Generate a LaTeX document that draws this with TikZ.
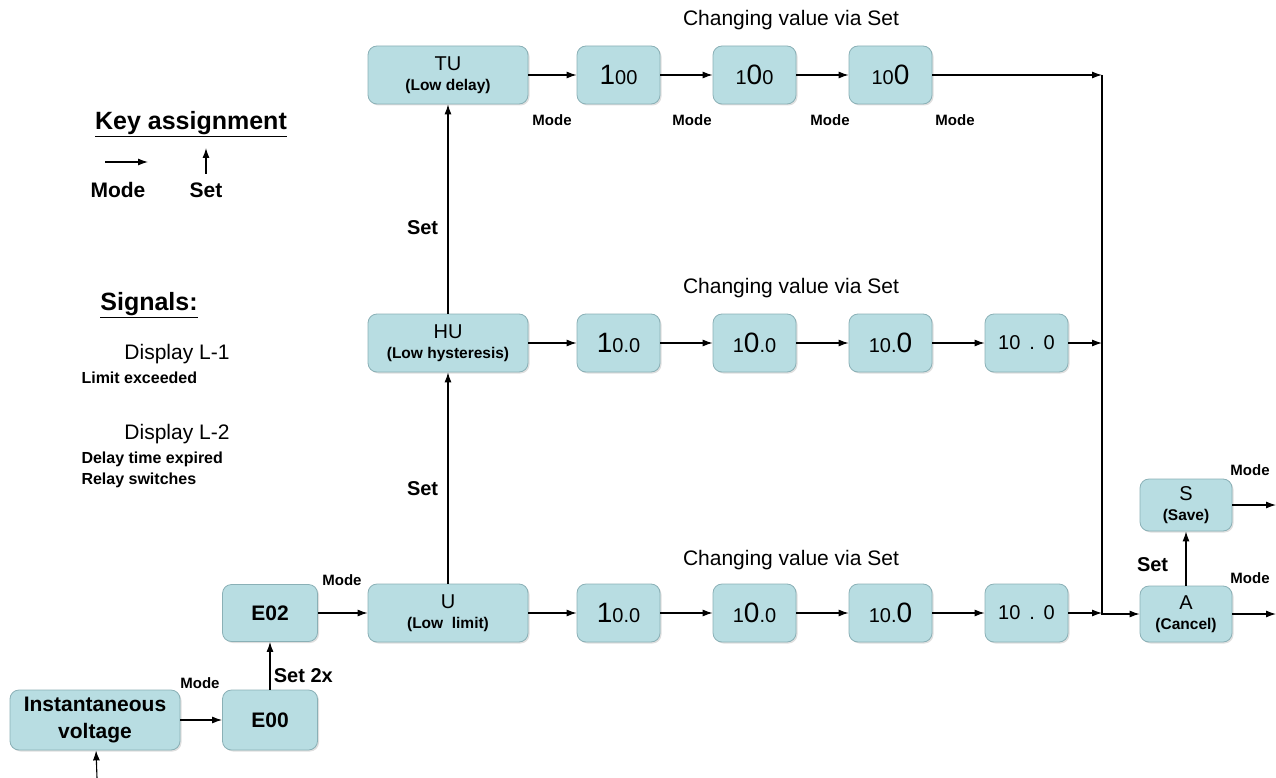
\documentclass[tikz,border=0pt]{standalone}
\usepackage{fontspec}
\setmainfont{Liberation Sans}
\usetikzlibrary{arrows.meta,shadows}

\definecolor{boxfill}{RGB}{184,221,226}
\definecolor{boxline}{RGB}{138,176,182}
\newcommand{\txtsz}[2]{{\fontsize{#1}{#1}\selectfont #2}}
\newcommand{\dbig}[1]{\txtsz{28}{#1}}
\newcommand{\dsml}[1]{\txtsz{20}{#1}}

\tikzset{
	disp/.style={draw=boxline, fill=boxfill, rounded corners=9pt, line width=0.8pt, inner sep=0pt,
		align=center, minimum height=58pt, font={\fontsize{15.5}{20}\selectfont},
		drop shadow={opacity=0.25, shadow xshift=1.5pt, shadow yshift=-1.5pt}},
	wide/.style={disp, minimum width=160pt},
	digit/.style={disp, minimum width=83pt},
	flow/.style={-{Latex[length=10pt,width=7pt]}, line width=1.1pt},
	modelbl/.style={font={\fontsize{15}{15}\selectfont\bfseries}},
	setlbl/.style={font={\fontsize{20}{20}\selectfont\bfseries}},
	head/.style={font={\fontsize{21}{21}\selectfont}},
}

\begin{document}
\begin{tikzpicture}[x=1pt,y=-1pt]
	\useasboundingbox (0,0) rectangle (1276,778);

	% legend
	\node[font={\fontsize{25}{25}\selectfont\bfseries}] (keyttl) at (191,124) {\underline{Key assignment}};
	\coordinate (kmodea) at (105,162);
	\coordinate (kmodeb) at (148,162);
	\coordinate (kseta) at (206,174);
	\coordinate (ksetb) at (206,148);
	\draw[flow] (kmodea) -- (kmodeb);
	\draw[flow] (kseta) -- (ksetb);
	\node[font={\fontsize{21}{21}\selectfont\bfseries}] (kmode) at (118,190) {Mode};
	\node[font={\fontsize{21}{21}\selectfont\bfseries}] (kset) at (206,190) {Set};

	\node[font={\fontsize{25}{25}\selectfont\bfseries}] (sigttl) at (149,305) {\underline{Signals:}};
	\node[font={\fontsize{21}{21}\selectfont}] (dl1) at (177,354) {Display L-1};
	\node[anchor=west, font={\fontsize{16}{16}\selectfont\bfseries}] (dl1t) at (78,378) {Limit exceeded};
	\node[font={\fontsize{21}{21}\selectfont}] (dl2) at (177,434) {Display L-2};
	\node[anchor=west, align=left, font={\fontsize{16}{21}\selectfont\bfseries}] (dl2t) at (78,470) {Delay time expired\\Relay switches};

	% start
	\node[disp, minimum width=170pt, minimum height=60pt, font={\fontsize{21}{27}\selectfont\bfseries}] (inst) at (95,720) {Instantaneous\\voltage};
	\node[disp, minimum width=95pt, minimum height=60pt, font={\fontsize{21}{21}\selectfont\bfseries}] (e00) at (270,720) {E00};
	\node[disp, minimum width=95pt, minimum height=57pt, font={\fontsize{21}{21}\selectfont\bfseries}] (e02) at (270,613) {E02};
	\coordinate (instin) at (97,778);
	\draw[flow] (instin) -- (inst);
	\draw[flow] (inst) -- (e00);
	\draw[flow] (e00) -- node[right, pos=0.3, setlbl] (set2x) {Set 2x} (e02);
	\node[modelbl] (m0) at (200,683) {Mode};
	\node[modelbl] (m1) at (342,580) {Mode};

	% low limit
	\node[head] (hdu) at (791,560) {Changing value via Set};
	\node[wide] (u) at (448,613) {\txtsz{20}{U}\\\textbf{(Low\ \ limit)}};
	\node[digit] (u1) at (618.5,613) {\dbig{1}\dsml{0.0}};
	\node[digit] (u2) at (754.5,613) {\dsml{1}\dbig{0}\dsml{.0}};
	\node[digit] (u3) at (890.5,613) {\dsml{10.}\dbig{0}};
	\node[digit] (u4) at (1026.5,613) {\dsml{10\ \,.\ \,0}};
	\draw[flow] (e02) -- (u);
	\draw[flow] (u) -- (u1);
	\draw[flow] (u1) -- (u2);
	\draw[flow] (u2) -- (u3);
	\draw[flow] (u3) -- (u4);

	% low hysteresis
	\node[head] (hdh) at (791,288) {Changing value via Set};
	\node[wide] (hu) at (448,343) {\txtsz{20}{HU}\\\textbf{(Low hysteresis)}};
	\node[digit] (h1) at (618.5,343) {\dbig{1}\dsml{0.0}};
	\node[digit] (h2) at (754.5,343) {\dsml{1}\dbig{0}\dsml{.0}};
	\node[digit] (h3) at (890.5,343) {\dsml{10.}\dbig{0}};
	\node[digit] (h4) at (1026.5,343) {\dsml{10\ \,.\ \,0}};
	\draw[flow] (u) -- node[left=6pt, pos=0.45, setlbl] (setuh) {Set} (hu);
	\draw[flow] (hu) -- (h1);
	\draw[flow] (h1) -- (h2);
	\draw[flow] (h2) -- (h3);
	\draw[flow] (h3) -- (h4);

	% low delay
	\node[head] (hdt) at (791,20) {Changing value via Set};
	\node[wide] (tu) at (448,75) {\txtsz{20}{TU}\\\textbf{(Low delay)}};
	\node[digit] (t1) at (618.5,75) {\dbig{1}\dsml{00}};
	\node[digit] (t2) at (754.5,75) {\dsml{1}\dbig{0}\dsml{0}};
	\node[digit] (t3) at (890.5,75) {\dsml{10}\dbig{0}};
	\draw[flow] (hu) -- node[left=6pt, pos=0.41, setlbl] (setht) {Set} (tu);
	\draw[flow] (tu) -- (t1);
	\draw[flow] (t1) -- (t2);
	\draw[flow] (t2) -- (t3);
	\node[modelbl] (mt0) at (552,120) {Mode};
	\node[modelbl] (mt1) at (692,120) {Mode};
	\node[modelbl] (mt2) at (830,120) {Mode};
	\node[modelbl] (mt3) at (955,120) {Mode};

	% collect
	\coordinate (jtop) at (1102,75);
	\coordinate (jmid) at (1102,343);
	\coordinate (jbot) at (1102,613);
	\node[disp, minimum width=92pt, minimum height=56pt] (acancel) at (1186,614) {\txtsz{20}{A}\\\textbf{(Cancel)}};
	\node[disp, minimum width=92pt, minimum height=52pt] (ssave) at (1186,505) {\txtsz{20}{S}\\\textbf{(Save)}};
	\draw[flow] (t3) -- (jtop);
	\draw[flow] (h4) -- (jmid);
	\draw[flow] (u4) -- (jbot);
	\draw[flow] (jtop) |- (acancel);
	\draw[flow] (acancel) -- node[left=14pt, pos=0.38, setlbl] (setas) {Set} (ssave);
	\coordinate (sout) at (1276,505);
	\coordinate (aout) at (1276,614);
	\draw[flow] (ssave) -- (sout);
	\draw[flow] (acancel) -- (aout);
	\node[modelbl] (ms) at (1250,470) {Mode};
	\node[modelbl] (ma) at (1250,578) {Mode};
\end{tikzpicture}
\end{document}
